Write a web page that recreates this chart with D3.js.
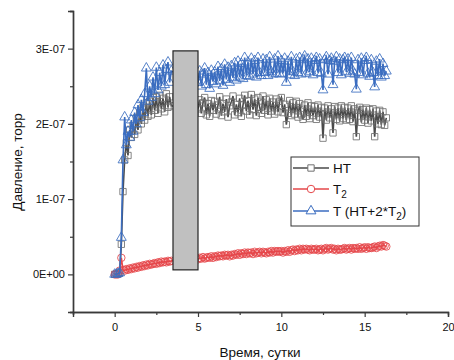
<!DOCTYPE html>
<html>
<head>
<meta charset="utf-8">
<script src="https://cdn.jsdelivr.net/npm/d3@7"></script>
<style>
  body { margin: 0; background: #fff; }
  svg { font-family: "Liberation Sans", Arial, sans-serif; }
</style>
</head>
<body>
<svg id="chart" width="454" height="360"></svg>
<script>
// time, days
const days = [
  0.0, 0.1, 0.2, 0.3, 0.4, 0.5, 0.6, 0.7, 0.8, 0.9,
  1.0, 1.1, 1.2, 1.3, 1.4, 1.5, 1.6, 1.7, 1.8, 1.9,
  2.0, 2.1, 2.2, 2.3, 2.4, 2.5, 2.6, 2.7, 2.8, 2.9,
  3.0, 3.1, 3.2, 3.3, 3.4,
  5.0, 5.1, 5.2, 5.3, 5.4, 5.5, 5.6, 5.7, 5.8, 5.9,
  6.0, 6.1, 6.2, 6.3, 6.4, 6.5, 6.6, 6.7, 6.8, 6.9,
  7.0, 7.1, 7.2, 7.3, 7.4, 7.5, 7.6, 7.7, 7.8, 7.9,
  8.0, 8.1, 8.2, 8.3, 8.4, 8.5, 8.6, 8.7, 8.8, 8.9,
  9.0, 9.1, 9.2, 9.3, 9.4, 9.5, 9.6, 9.7, 9.8, 9.9,
  10.0, 10.1, 10.2, 10.3, 10.4, 10.5, 10.6, 10.7, 10.8, 10.9,
  11.0, 11.1, 11.2, 11.3, 11.4, 11.5, 11.6, 11.7, 11.8, 11.9,
  12.0, 12.1, 12.2, 12.3, 12.4, 12.5, 12.6, 12.7, 12.8, 12.9,
  13.0, 13.1, 13.2, 13.3, 13.4, 13.5, 13.6, 13.7, 13.8, 13.9,
  14.0, 14.1, 14.2, 14.3, 14.4, 14.5, 14.6, 14.7, 14.8, 14.9,
  15.0, 15.1, 15.2, 15.3, 15.4, 15.5, 15.6, 15.7, 15.8, 15.9,
  16.0, 16.1, 16.2, 16.3
];

// pressure values in units of 1E-07 torr
const htValues = [
  0, 0, 0.01, 0.02, 0.40, 1.10, 1.52, 1.75, 1.58, 1.92,
  1.82, 1.98, 1.86, 2.08, 1.92, 2.15, 2.00, 2.22, 2.05, 2.28,
  2.10, 2.30, 2.12, 2.35, 2.18, 2.36, 2.14, 2.38, 2.20, 2.34,
  2.16, 2.40, 2.22, 2.36, 2.24,
  2.20, 2.32, 2.14, 2.28, 2.35, 2.12, 2.27, 2.10, 2.31, 2.18,
  2.30, 2.13, 2.25, 2.36, 2.11, 2.27, 2.16, 2.33, 2.09, 2.24,
  2.29, 2.37, 2.12, 2.26, 2.15, 2.34, 2.10, 2.25, 2.38, 2.17,
  2.31, 2.12, 2.39, 2.19, 2.33, 2.11, 2.35, 2.22, 2.14, 2.37,
  2.18, 2.32, 2.12, 2.34, 2.17, 2.29, 2.13, 2.33, 2.16, 2.30,
  2.35, 2.15, 2.26, 1.99, 2.14, 2.31, 2.11, 2.28, 2.13, 2.30,
  2.09, 2.27, 2.12, 2.06, 2.25, 2.10, 2.28, 2.07, 2.24, 2.11,
  2.23, 2.06, 2.25, 2.09, 2.22, 1.81, 2.21, 2.05, 2.24, 2.08,
  2.20, 1.88, 2.23, 2.06, 2.21, 2.04, 2.24, 2.07, 2.22, 2.05,
  2.21, 2.06, 2.24, 2.03, 2.20, 1.83, 2.18, 2.22, 2.02, 2.19,
  2.05, 2.21, 2.01, 2.19, 2.04, 2.20, 1.83, 2.17, 2.00, 2.18,
  1.99, 2.16, 1.98, 2.08
];

const t2Values = [
  0, 0, 0, 0.05, 0.22, 0.06, 0.05, 0.07, 0.06, 0.08,
  0.07, 0.09, 0.08, 0.10, 0.09, 0.11, 0.10, 0.12, 0.11, 0.13,
  0.12, 0.14, 0.13, 0.14, 0.15, 0.14, 0.16, 0.15, 0.17, 0.16,
  0.17, 0.16, 0.18, 0.17, 0.18,
  0.20, 0.22, 0.21, 0.23, 0.21, 0.22, 0.23, 0.22, 0.24, 0.22,
  0.24, 0.23, 0.25, 0.24, 0.25, 0.24, 0.26, 0.25, 0.26, 0.24,
  0.26, 0.25, 0.27, 0.26, 0.28, 0.26, 0.28, 0.27, 0.29, 0.27,
  0.29, 0.28, 0.29, 0.27, 0.30, 0.28, 0.29, 0.30, 0.28, 0.30,
  0.29, 0.28, 0.30, 0.29, 0.31, 0.29, 0.31, 0.30, 0.31, 0.30,
  0.31, 0.29, 0.31, 0.30, 0.32, 0.30, 0.32, 0.33, 0.31, 0.33,
  0.32, 0.34, 0.32, 0.34, 0.33, 0.34, 0.33, 0.32, 0.34, 0.33,
  0.33, 0.34, 0.32, 0.33, 0.34, 0.32, 0.34, 0.35, 0.33, 0.34,
  0.35, 0.33, 0.34, 0.32, 0.34, 0.33, 0.33, 0.34, 0.35, 0.33,
  0.34, 0.35, 0.33, 0.35, 0.34, 0.35, 0.34, 0.36, 0.34, 0.35,
  0.36, 0.34, 0.36, 0.35, 0.35, 0.36, 0.37, 0.35, 0.37, 0.38,
  0.37, 0.39, 0.38, 0.37
];

const tValues = [
  0, 0, 0.01, 0.02, 0.49, 1.52, 2.09, 1.72, 1.90, 1.82,
  2.05, 1.90, 2.15, 2.00, 2.25, 2.08, 2.32, 2.15, 2.40, 2.74,
  2.30, 2.50, 2.35, 2.62, 2.40, 2.75, 2.45, 2.68, 2.50, 2.78,
  2.52, 2.72, 2.82, 2.55, 2.70,
  2.55, 2.70, 2.50, 2.66, 2.74, 2.52, 2.68, 2.47, 2.71, 2.56,
  2.69, 2.53, 2.76, 2.57, 2.73, 2.51, 2.79, 2.59, 2.75, 2.55,
  2.77, 2.61, 2.81, 2.58, 2.83, 2.62, 2.80, 2.60, 2.88, 2.64,
  2.82, 2.63, 2.87, 2.66, 2.84, 2.62, 2.88, 2.68, 2.64, 2.86,
  2.68, 2.85, 2.64, 2.89, 2.69, 2.66, 2.86, 2.67, 2.90, 2.66,
  2.84, 2.67, 2.87, 2.55, 2.83, 2.65, 2.89, 2.69, 2.64, 2.86,
  2.68, 2.88, 2.66, 2.85, 2.90, 2.67, 2.86, 2.69, 2.87, 2.65,
  2.84, 2.88, 2.68, 2.86, 2.67, 2.45, 2.85, 2.89, 2.66, 2.84,
  2.87, 2.52, 2.83, 2.89, 2.68, 2.86, 2.65, 2.85, 2.88, 2.69,
  2.86, 2.67, 2.88, 2.70, 2.66, 2.46, 2.85, 2.68, 2.87, 2.65,
  2.84, 2.88, 2.67, 2.63, 2.85, 2.68, 2.49, 2.83, 2.64, 2.86,
  2.62, 2.80, 2.64, 2.70
];

// grey bar covering the gap (days, 1E-07 torr)
const gapBand = { from: 3.5, to: 5.0, low: 0.06, high: 2.97 };

const xTicks = [0, 5, 10, 15, 20];
const yTicks = [0, 1, 2, 3];
const yTickLabels = ["0E+00", "1E-07", "2E-07", "3E-07"];

const series = [
  { name: "HT", values: htValues, line: "#4a4a4a", marker: "#707070", shape: "square" },
  { name: "T2", values: t2Values, line: "#e5474a", marker: "#e5474a", shape: "circle" },
  { name: "T", values: tValues, line: "#3b6dc0", marker: "#3b6dc0", shape: "triangle" }
];

const svg = d3.select("#chart");

const x = d3.scaleLinear().domain([-2.5, 20]).range([73, 448]);
const y = d3.scaleLinear().domain([-0.5, 3.5]).range([312, 11]);

const axisColor = "#3a3a3a";

// axes
svg.append("g")
    .attr("transform", "translate(0,312)")
    .call(d3.axisBottom(x).tickValues(xTicks).tickSize(5).tickPadding(6).tickFormat(d3.format("d")));
svg.append("g")
    .attr("transform", "translate(0,312)")
    .call(d3.axisBottom(x).tickValues([-2.5, 2.5, 7.5, 12.5, 17.5]).tickSize(3).tickFormat(""));

svg.append("g")
    .attr("transform", "translate(73,0)")
    .call(d3.axisLeft(y).tickValues(yTicks).tickSize(5).tickPadding(3).tickFormat((d, i) => yTickLabels[i]));
svg.append("g")
    .attr("transform", "translate(73,0)")
    .call(d3.axisLeft(y).tickValues([-0.5, 0.5, 1.5, 2.5, 3.5]).tickSize(3).tickFormat(""));

svg.selectAll(".domain").attr("stroke", axisColor).attr("stroke-width", 1.4);
svg.selectAll(".tick line").attr("stroke", axisColor).attr("stroke-width", 1.2);
svg.selectAll(".tick text").attr("fill", "#111").style("font-size", "11px");

// series
const symbolFor = {
  square: d3.symbol().type(d3.symbolSquare).size(40),
  circle: d3.symbol().type(d3.symbolCircle).size(44),
  triangle: d3.symbol().type(d3.symbolTriangle).size(42)
};

const line = d3.line().x(d => x(d[0])).y(d => y(d[1]));

series.forEach(s => {
  const pts = days.map((d, i) => [d, s.values[i]]);
  const g = svg.append("g");
  g.append("path")
      .datum(pts)
      .attr("fill", "none")
      .attr("stroke", s.line)
      .attr("stroke-width", 1.6)
      .attr("d", line);
  g.selectAll("path.mk")
      .data(pts)
      .enter().append("path")
      .attr("class", "mk")
      .attr("d", symbolFor[s.shape])
      .attr("transform", d => `translate(${x(d[0])},${y(d[1])})`)
      .attr("fill", "none")
      .attr("stroke", s.marker)
      .attr("stroke-width", 1)
      .attr("stroke-opacity", 0.85);
});

// grey band over the gap
svg.append("rect")
    .attr("x", x(gapBand.from))
    .attr("y", y(gapBand.high))
    .attr("width", x(gapBand.to) - x(gapBand.from))
    .attr("height", y(gapBand.low) - y(gapBand.high))
    .attr("fill", "#c0c0c0")
    .attr("stroke", "#222")
    .attr("stroke-width", 1.2);

// axis titles
svg.append("text")
    .attr("x", 260)
    .attr("y", 357)
    .attr("text-anchor", "middle")
    .style("font-size", "13.5px")
    .attr("fill", "#111")
    .text("Время, сутки");

svg.append("text")
    .attr("transform", "translate(22,162) rotate(-90)")
    .attr("text-anchor", "middle")
    .style("font-size", "13.5px")
    .attr("fill", "#111")
    .text("Давление, торр");

// legend
const legend = svg.append("g");
legend.append("rect")
    .attr("x", 291).attr("y", 157)
    .attr("width", 128).attr("height", 69)
    .attr("fill", "#fff")
    .attr("stroke", "#333")
    .attr("stroke-width", 1);

const legendRows = [168, 189, 211];
series.forEach((s, i) => {
  const ly = legendRows[i];
  legend.append("line")
      .attr("x1", 293).attr("x2", 329)
      .attr("y1", ly).attr("y2", ly)
      .attr("stroke", s.line).attr("stroke-width", 1.6);
  legend.append("path")
      .attr("d", symbolFor[s.shape])
      .attr("transform", `translate(311,${ly})`)
      .attr("fill", "#fff")
      .attr("stroke", s.marker)
      .attr("stroke-width", 1);
});

const legendText = legend.append("g")
    .style("font-size", "13.5px")
    .attr("fill", "#111");

legendText.append("text").attr("x", 333).attr("y", legendRows[0] + 5).text("HT");

const t2Label = legendText.append("text").attr("x", 333).attr("y", legendRows[1] + 5);
t2Label.append("tspan").text("T");
t2Label.append("tspan").attr("dy", 4).style("font-size", "10px").text("2");

const tLabel = legendText.append("text").attr("x", 333).attr("y", legendRows[2] + 5);
tLabel.append("tspan").text("T (HT+2*T");
tLabel.append("tspan").attr("dy", 4).style("font-size", "10px").text("2");
tLabel.append("tspan").attr("dy", -4).text(")");
</script>
</body>
</html>
